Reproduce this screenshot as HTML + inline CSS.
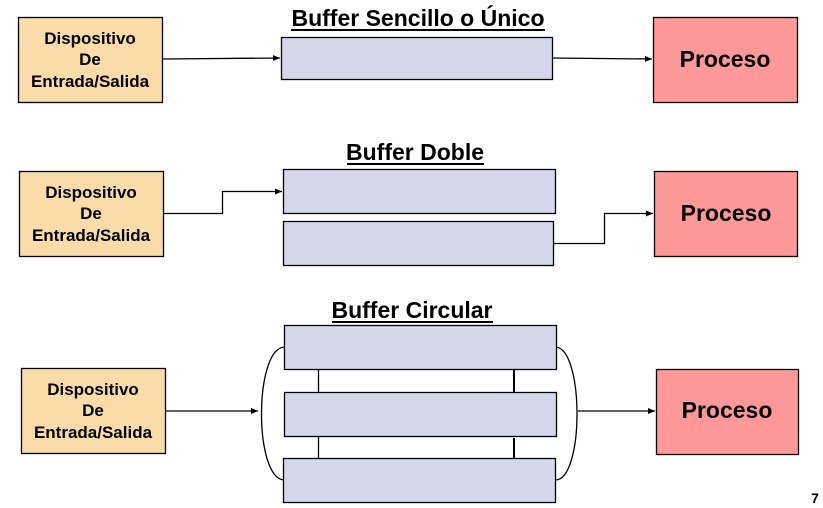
<!DOCTYPE html>
<html><head><meta charset="utf-8"><style>
html,body{margin:0;padding:0;background:#fff;}
svg{display:block;}
text{font-family:"Liberation Sans",Arial,sans-serif;font-weight:bold;fill:#000;}
</style></head><body>
<svg width="823" height="508" viewBox="0 0 823 508" xmlns="http://www.w3.org/2000/svg">
<defs><marker id="a" markerWidth="8" markerHeight="8" refX="7" refY="3" orient="auto" markerUnits="userSpaceOnUse"><path d="M0,0 L7,3 L0,6 z" fill="#000"/></marker></defs>
<g stroke="#000" stroke-width="1.3">
<rect x="18.5" y="17.5" width="144" height="85" fill="#fadca8"/>
<rect x="281.5" y="37.5" width="271" height="42" fill="#d6d6ea"/>
<rect x="653.5" y="17.5" width="144" height="85" fill="#ff9999"/>
<path d="M162,59 L280,58" fill="none" marker-end="url(#a)"/>
<path d="M552,58 L652,59" fill="none" marker-end="url(#a)"/>
<rect x="19.5" y="171.5" width="144" height="85" fill="#fadca8"/>
<rect x="283.5" y="169.5" width="272" height="44" fill="#d6d6ea"/>
<rect x="283.5" y="221.5" width="270" height="44" fill="#d6d6ea"/>
<rect x="654.5" y="171.5" width="143" height="85" fill="#ff9999"/>
<path d="M163,213.5 L222.5,213.5 L222.5,191.5 L282,191.5" fill="none" marker-end="url(#a)"/>
<path d="M553,243.5 L604.5,243.5 L604.5,213.5 L653,213.5" fill="none" marker-end="url(#a)"/>
<rect x="21.5" y="368.5" width="144" height="85" fill="#fadca8"/>
<line x1="318.5" y1="369" x2="318.5" y2="392"/>
<line x1="318.5" y1="436" x2="318.5" y2="459"/>
<line x1="514" y1="369" x2="514" y2="392" stroke-width="2"/>
<line x1="514" y1="438" x2="514" y2="461" stroke-width="2"/>
<rect x="284.5" y="325.5" width="272" height="44" fill="#d6d6ea"/>
<rect x="284.5" y="392.5" width="272" height="44" fill="#d6d6ea"/>
<rect x="283.5" y="458.5" width="272" height="44" fill="#d6d6ea"/>
<rect x="656.5" y="369.5" width="142" height="85" fill="#ff9999"/>
<path d="M165,411 L258,411" fill="none" marker-end="url(#a)"/>
<path d="M284,347 C254,350 254,478 284,480" fill="none"/>
<path d="M556,347 C584,350 584,478 556,480" fill="none"/>
<path d="M578,411 L655,411" fill="none" marker-end="url(#a)"/>
</g>
<text x="418" y="26" font-size="23" text-anchor="middle">Buffer Sencillo o Único</text>
<line x1="291" y1="30" x2="545" y2="30" stroke="#000" stroke-width="2"/>
<text x="415" y="160" font-size="23" text-anchor="middle">Buffer Doble</text>
<line x1="347" y1="164" x2="484" y2="164" stroke="#000" stroke-width="2"/>
<text x="412" y="318" font-size="23" text-anchor="middle">Buffer Circular</text>
<line x1="332" y1="322" x2="493" y2="322" stroke="#000" stroke-width="2"/>
<g font-size="17" text-anchor="middle">
<text x="90" y="44">Dispositivo</text><text x="90" y="65">De</text><text x="90" y="87">Entrada/Salida</text>
<text x="91" y="198">Dispositivo</text><text x="91" y="219">De</text><text x="91" y="241">Entrada/Salida</text>
<text x="93" y="395">Dispositivo</text><text x="93" y="416">De</text><text x="93" y="438">Entrada/Salida</text>
</g>
<g font-size="23" text-anchor="middle">
<text x="725" y="67">Proceso</text>
<text x="726" y="221">Proceso</text>
<text x="727" y="418">Proceso</text>
</g>
<text x="815" y="503" font-size="14" text-anchor="middle">7</text>
</svg>
</body></html>
